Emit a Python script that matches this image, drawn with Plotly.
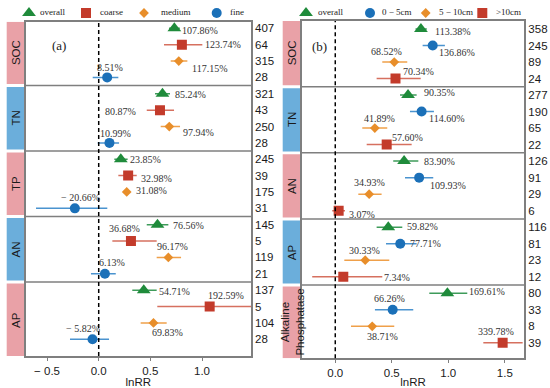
import plotly.graph_objects as go

W, H = 550, 388

# ---------------- panel (a): particle size ----------------
groups_a = ["SOC", "TN", "TP", "AN", "AP"]
names_a = ["overall", "coarse", "medium", "fine"]
a_overall_lnrr = [0.732, 0.617, 0.214, 0.569, 0.436]
a_overall_lo = [0.680, 0.545, 0.151, 0.465, 0.325]
a_overall_hi = [0.785, 0.690, 0.280, 0.674, 0.561]
a_overall_pct = ["107.86%", "85.24%", "23.85%", "76.56%", "54.71%"]
a_overall_n = [407, 321, 245, 145, 137]

a_coarse_lnrr = [0.805, 0.593, 0.285, 0.312, 1.074]
a_coarse_lo = [0.632, 0.465, 0.190, 0.132, 0.567]
a_coarse_hi = [1.003, 0.729, 0.368, 0.561, 1.580]
a_coarse_pct = ["123.74%", "80.87%", "32.98%", "36.68%", "192.59%"]
a_coarse_n = [64, 43, 39, 5, 5]

a_medium_lnrr = [0.775, 0.683, 0.271, 0.674, 0.530]
a_medium_lo = [0.697, 0.600, 0.240, 0.561, 0.406]
a_medium_hi = [0.858, 0.787, 0.300, 0.797, 0.658]
a_medium_pct = ["117.15%", "97.94%", "31.08%", "96.17%", "69.83%"]
a_medium_n = [315, 250, 175, 119, 104]

a_fine_lnrr = [0.082, 0.104, -0.231, 0.060, -0.060]
a_fine_lo = [-0.058, -0.010, -0.607, -0.075, -0.278]
a_fine_hi = [0.190, 0.197, 0.083, 0.165, 0.100]
a_fine_pct = ["8.51%", "10.99%", "\u2212 20.66%", "6.13%", "\u2212 5.82%"]
a_fine_n = [28, 28, 31, 21, 28]

# ---------------- panel (b): soil depth ----------------
groups_b = ["SOC", "TN", "AN", "AP", "Alkaline<br>Phosphatase"]
names_b = ["overall", "0 \u2212 5cm", "5 \u2212 10cm", ">10cm"]
b_overall_lnrr = [0.758, 0.644, 0.609, 0.469, 0.992]
b_overall_lo = [0.710, 0.573, 0.513, 0.366, 0.832]
b_overall_hi = [0.810, 0.720, 0.735, 0.593, 1.168]
b_overall_pct = ["113.38%", "90.35%", "83.90%", "59.82%", "169.61%"]
b_overall_n = [358, 277, 126, 116, 80]

b_d0_lnrr = [0.862, 0.764, 0.742, 0.575, 0.508]
b_d0_lo = [0.773, 0.661, 0.617, 0.449, 0.351]
b_d0_hi = [0.970, 0.873, 0.867, 0.720, 0.690]
b_d0_pct = ["136.86%", "114.60%", "109.93%", "77.71%", "66.26%"]
b_d0_n = [245, 190, 91, 81, 33]

b_d5_lnrr = [0.522, 0.350, 0.300, 0.265, 0.327]
b_d5_lo = [0.416, 0.239, 0.204, 0.080, 0.139]
b_d5_hi = [0.637, 0.460, 0.410, 0.478, 0.522]
b_d5_pct = ["68.52%", "41.89%", "34.93%", "30.33%", "38.71%"]
b_d5_n = [89, 65, 29, 23, 8]

b_d10_lnrr = [0.533, 0.455, 0.030, 0.071, 1.481]
b_d10_lo = [0.366, 0.278, -0.027, -0.204, 1.310]
b_d10_hi = [0.756, 0.676, 0.086, 0.416, 1.658]
b_d10_pct = ["70.34%", "57.60%", "3.07%", "7.34%", "339.78%"]
b_d10_n = [24, 22, 6, 12, 39]

# ---------------- styles ----------------
GREEN = ("#1F8B3B", "#3E9B5A", "triangle-up", 12)
RED = ("#C33B2B", "#D6705F", "square", 10)
ORANGE = ("#E88E2A", "#EFA04A", "diamond", 7.5)
BLUE = ("#1B70B8", "#4A93CF", "circle", 10)
PINK_STRIP = "#E9A1A7"
BLUE_STRIP = "#6BAEDB"
FRAME = "#7F7F7F"
SANS = "Liberation Sans, Arial"
SERIF = "Liberation Serif, Times New Roman, serif"

# label offsets (pixels from marker: dx, dy down, anchor)
off_a = [
    [(6, 2, "left"), (11, 1, "left"), (7, 0, "left"), (13.5, 1, "left"), (13, 1, "left")],
    [(21.5, 0, "left"), (-21.6, 1, "right"), (11, 3, "left"), (-6.3, -12.7, "center"), (16.4, -10.7, "center")],
    [(11, 7, "left"), (12, 6, "left"), (7.5, -1.5, "left"), (3.7, -10.6, "center"), (14, 10, "center")],
    [(2.5, -9.5, "center"), (6, -9.6, "center"), (5.7, -11, "center"), (7, -11.3, "center"), (-9.5, -11, "center")],
]
off_b = [
    [(12, 2, "left"), (13.7, -2.6, "left"), (17.5, 0, "left"), (16.7, -1, "left"), (20, -1.5, "left")],
    [(4.5, 6.6, "left"), (5, 7, "left"), (8.5, 7.5, "left"), (8, 0, "left"), (-2.7, -11, "center")],
    [(-8, -11, "center"), (5, -10, "center"), (0, -12, "center"), (-0.5, -9.5, "center"), (10, 10, "center")],
    [(22.5, -7.5, "center"), (21, -7, "center"), (8.5, 4, "left"), (39, 1, "left"), (-6.4, -11, "center")],
]

panel_a = [
    (a_overall_lnrr, a_overall_lo, a_overall_hi, a_overall_pct, a_overall_n, GREEN),
    (a_coarse_lnrr, a_coarse_lo, a_coarse_hi, a_coarse_pct, a_coarse_n, RED),
    (a_medium_lnrr, a_medium_lo, a_medium_hi, a_medium_pct, a_medium_n, ORANGE),
    (a_fine_lnrr, a_fine_lo, a_fine_hi, a_fine_pct, a_fine_n, BLUE),
]
panel_b = [
    (b_overall_lnrr, b_overall_lo, b_overall_hi, b_overall_pct, b_overall_n, GREEN),
    (b_d0_lnrr, b_d0_lo, b_d0_hi, b_d0_pct, b_d0_n, BLUE),
    (b_d5_lnrr, b_d5_lo, b_d5_hi, b_d5_pct, b_d5_n, ORANGE),
    (b_d10_lnrr, b_d10_lo, b_d10_hi, b_d10_pct, b_d10_n, RED),
]

fig = go.Figure()
annotations = []
shapes = []


def build_panel(panel, offsets, groups, xa, ya, yrange, strip_x):
    tickvals, ticktext = [], []
    for s, (vals, lo, hi, pct, n, sty) in enumerate(panel):
        mcol, lcol, sym, size = sty
        rows = [4 * g + s for g in range(len(vals))]
        fig.add_trace(go.Scatter(
            x=vals, y=rows, mode="markers", xaxis=xa, yaxis=ya, showlegend=False,
            marker=dict(symbol=sym, size=size, color=mcol, line=dict(width=0)),
            error_x=dict(type="data", symmetric=False,
                         array=[h - v for h, v in zip(hi, vals)],
                         arrayminus=[v - l for v, l in zip(vals, lo)],
                         color=lcol, thickness=1.5, width=0),
            cliponaxis=True,
        ))
        for g, (v, r, t) in enumerate(zip(vals, rows, pct)):
            dx, dy, anc = offsets[s][g]
            annotations.append(dict(
                x=v, y=r, xref=xa, yref=ya, text=t, showarrow=False,
                xanchor=anc, yanchor="middle", xshift=dx, yshift=-dy,
                font=dict(family=SERIF, size=10, color="#333333"),
            ))
        for r, c in zip(rows, n):
            tickvals.append(r)
            ticktext.append(str(c))
    # separators
    for k in range(1, len(groups)):
        shapes.append(dict(type="line", xref=xa + " domain", yref=ya,
                           x0=0, x1=1, y0=4 * k - 0.5, y1=4 * k - 0.5,
                           line=dict(color=FRAME, width=1.5)))
    # zero line
    shapes.append(dict(type="line", xref=xa, yref=ya + " domain", x0=0, x1=0, y0=0, y1=1,
                       line=dict(color="black", width=1.5, dash="4px,3px")))
    # strips
    gap = 0.09
    for g, name in enumerate(groups):
        top = yrange[1] if g == 0 else 4 * g - 0.5 + gap
        bot = yrange[0] if g == len(groups) - 1 else 4 * g + 3.5 - gap
        col = PINK_STRIP if g % 2 == 0 else BLUE_STRIP
        shapes.append(dict(type="rect", xref="paper", yref=ya,
                           x0=strip_x[0] / W, x1=strip_x[1] / W, y0=top, y1=bot,
                           fillcolor=col, line=dict(width=0), layer="below"))
        annotations.append(dict(
            x=(strip_x[0] + strip_x[1]) / 2 / W, y=(top + bot) / 2, xref="paper", yref=ya,
            text=name, textangle=-90, showarrow=False, xanchor="center", yanchor="middle",
            font=dict(family=SANS, size=11.5, color="#1a1a1a"),
        ))
    return tickvals, ticktext


ya_range = [20.02, -0.403]
yb_range = [19.94, -0.485]
tv_a, tt_a = build_panel(panel_a, off_a, groups_a, "x", "y", ya_range, (6.7, 25.7))
tv_b, tt_b = build_panel(panel_b, off_b, groups_b, "x2", "y2", yb_range, (282.7, 301.7))

# ---------------- legends (decoration) ----------------
leg_a = [("overall", GREEN, 29, 38), ("coarse", RED, 86, 98), ("medium", ORANGE, 144, 159), ("fine", BLUE, 216.7, 228)]
leg_b = [(names_b[0], GREEN, 306, 315.7), (names_b[1], BLUE, 370, 380),
         (names_b[2], ORANGE, 425.7, 437.3), (names_b[3], RED, 482.3, 494)]
for name, sty, mx, tx in leg_a + leg_b:
    mcol, lcol, sym, size = sty
    fig.add_trace(go.Scatter(x=[mx], y=[13], mode="markers", xaxis="x3", yaxis="y3",
                             showlegend=False, cliponaxis=False, hoverinfo="skip",
                             marker=dict(symbol=sym, size=size, color=mcol)))
    annotations.append(dict(x=tx / W, y=1 - 12.5 / H, xref="paper", yref="paper", text=name,
                            showarrow=False, xanchor="left", yanchor="middle",
                            font=dict(family=SERIF, size=9, color="#222222")))

annotations.append(dict(x=50 / W, y=1 - 36 / H, xref="paper", yref="paper", text="(a)",
                        showarrow=False, font=dict(family=SERIF, size=13, color="#222222")))
annotations.append(dict(x=319.7 / W, y=1 - 37.5 / H, xref="paper", yref="paper", text="(b)",
                        showarrow=False, font=dict(family=SERIF, size=13, color="#222222")))

xcommon = dict(showline=True, mirror=True, linecolor=FRAME, linewidth=1.5, showgrid=False,
               zeroline=False, ticks="outside", ticklen=3, tickcolor=FRAME, tickwidth=1,
               automargin=False,
               tickfont=dict(family=SANS, size=11.5, color="#1a1a1a"),
               title=dict(text="lnRR", font=dict(family=SANS, size=11.5, color="#1a1a1a"), standoff=2))
ycommon = dict(showline=True, mirror=True, linecolor=FRAME, linewidth=1.5, showgrid=False,
               zeroline=False, ticks="", side="right", automargin=False,
               tickfont=dict(family=SANS, size=11.5, color="#1a1a1a"))

fig.update_layout(
    width=W, height=H, margin=dict(l=0, r=0, t=0, b=0),
    paper_bgcolor="white", plot_bgcolor="rgba(0,0,0,0)", showlegend=False,
    xaxis=dict(domain=[25.7 / W, 251 / W], range=[-0.7067, 1.474],
               tickvals=[-0.5, 0, 0.5, 1.0], ticktext=["\u2212 0.5", "0.0", "0.5", "1.0"],
               anchor="y", **xcommon),
    yaxis=dict(domain=[1 - 356 / H, 1 - 21.7 / H], range=ya_range,
               tickvals=tv_a, ticktext=tt_a, anchor="x", **ycommon),
    xaxis2=dict(domain=[301.7 / W, 524.3 / W], range=[-0.297, 1.6726],
                tickvals=[0, 0.5, 1.0, 1.5], ticktext=["0.0", "0.5", "1.0", "1.5"],
                anchor="y2", **xcommon),
    yaxis2=dict(domain=[1 - 358.3 / H, 1 - 21 / H], range=yb_range,
                tickvals=tv_b, ticktext=tt_b, anchor="x2", **ycommon),
    xaxis3=dict(domain=[0, 1], range=[0, W], visible=False, anchor="y3", fixedrange=True),
    yaxis3=dict(domain=[0, 1], range=[H, 0], visible=False, anchor="x3", fixedrange=True),
    annotations=annotations, shapes=shapes,
)

fig.write_html("out.html", config={"displayModeBar": False},
               post_script="document.body.style.margin='0px';")
